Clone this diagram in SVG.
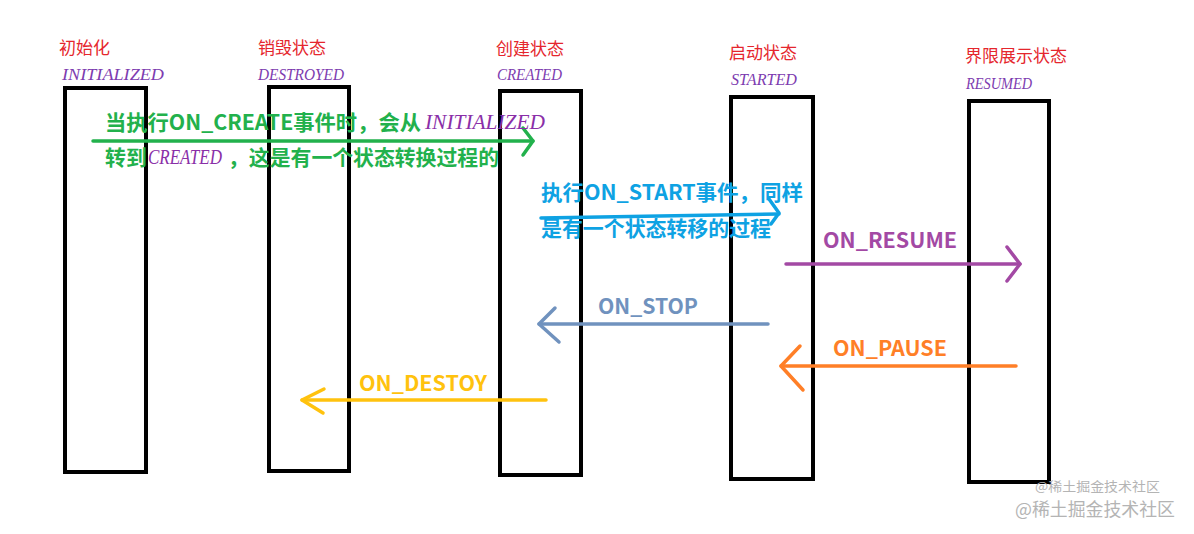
<svg xmlns="http://www.w3.org/2000/svg" width="1194" height="534" viewBox="0 0 1194 534">
  <style>
    .box { fill: #ffffff; stroke: #000000; stroke-width: 4; }
    .cn { font-family: "Noto Sans CJK SC", "Noto Sans", sans-serif; font-size: 17px; fill: #e5262d; }
    .en { font-family: "Liberation Serif", serif; font-style: italic; font-size: 16px; fill: #7d3cb0; }
    .enb { font-family: "Liberation Serif", serif; font-style: italic; font-size: 20px; fill: #8a2fa8; }
    .lbl { font-family: "Noto Sans CJK SC", "Noto Sans", sans-serif; font-weight: bold; font-size: 21px; }
    .ln { fill: none; stroke-width: 3.5; stroke-linecap: round; stroke-linejoin: round; }
    .wm { font-family: "Noto Sans CJK SC", "Noto Sans", sans-serif; fill: #b4b4b4; }
  </style>
  <rect width="1194" height="534" fill="#ffffff"/>

  <g id="node-initialized">
    <rect class="box" x="65" y="88" width="81" height="384"/>
    <text class="cn" x="59" y="54">初始化</text>
    <text class="en" x="62" y="80" textLength="102" lengthAdjust="spacingAndGlyphs">INITIALIZED</text>
  </g>
  <g id="node-destroyed">
    <rect class="box" x="269" y="87" width="80" height="384"/>
    <text class="cn" x="258" y="54">销毁状态</text>
    <text class="en" x="258" y="80" textLength="86" lengthAdjust="spacingAndGlyphs">DESTROYED</text>
  </g>
  <g id="node-created">
    <rect class="box" x="500" y="91" width="81" height="384"/>
    <text class="cn" x="496" y="55">创建状态</text>
    <text class="en" x="497" y="80" textLength="65" lengthAdjust="spacingAndGlyphs">CREATED</text>
  </g>
  <g id="node-started">
    <rect class="box" x="731" y="97" width="82" height="382"/>
    <text class="cn" x="729" y="59">启动状态</text>
    <text class="en" x="731" y="85" textLength="66" lengthAdjust="spacingAndGlyphs">STARTED</text>
  </g>
  <g id="node-resumed">
    <rect class="box" x="969" y="101" width="80" height="381"/>
    <text class="cn" x="965" y="62">界限展示状态</text>
    <text class="en" x="966" y="89" textLength="66" lengthAdjust="spacingAndGlyphs">RESUMED</text>
  </g>

  <g id="connectors">
    <g id="conn-create">
      <line class="ln" stroke="#22b14c" x1="93" y1="141" x2="533" y2="141"/>
      <polyline class="ln" stroke="#22b14c" points="523,128 533,141 523,155"/>
      <text class="lbl" fill="#22b14c" x="105" y="130" textLength="316" lengthAdjust="spacingAndGlyphs">当执行ON_CREATE事件时，会从</text>
      <text class="enb" x="425" y="129" textLength="120" lengthAdjust="spacingAndGlyphs">INITIALIZED</text>
      <text class="lbl" fill="#22b14c" x="105" y="165" textLength="42" lengthAdjust="spacingAndGlyphs">转到</text>
      <text class="enb" x="148" y="164" textLength="74" lengthAdjust="spacingAndGlyphs">CREATED</text>
      <text class="lbl" fill="#22b14c" x="228" y="165" textLength="271" lengthAdjust="spacingAndGlyphs">，这是有一个状态转换过程的</text>
    </g>
    <g id="conn-start">
      <line class="ln" stroke="#0ea2e3" x1="541" y1="218" x2="779" y2="214"/>
      <polyline class="ln" stroke="#0ea2e3" points="769,199 779,213 771,224"/>
      <text class="lbl" fill="#0ea2e3" x="541" y="200" textLength="262" lengthAdjust="spacingAndGlyphs">执行ON_START事件，同样</text>
      <text class="lbl" fill="#0ea2e3" x="541" y="236" textLength="230" lengthAdjust="spacingAndGlyphs">是有一个状态转移的过程</text>
    </g>
    <g id="conn-resume">
      <line class="ln" stroke="#a349a4" x1="786" y1="264" x2="1020" y2="264"/>
      <polyline class="ln" stroke="#a349a4" points="1007,247 1020,264 1007,281"/>
      <text class="lbl" fill="#a349a4" x="823" y="248" textLength="134" lengthAdjust="spacingAndGlyphs">ON_RESUME</text>
    </g>
    <g id="conn-stop">
      <line class="ln" stroke="#7092be" x1="768" y1="324" x2="539" y2="324"/>
      <polyline class="ln" stroke="#7092be" points="555,308 539,324 559,342"/>
      <text class="lbl" fill="#7092be" x="598" y="314" textLength="100" lengthAdjust="spacingAndGlyphs">ON_STOP</text>
    </g>
    <g id="conn-pause">
      <line class="ln" stroke="#ff7f27" x1="1016" y1="366" x2="781" y2="366"/>
      <polyline class="ln" stroke="#ff7f27" points="800,346 781,366 803,390"/>
      <text class="lbl" fill="#ff7f27" x="833" y="356" textLength="114" lengthAdjust="spacingAndGlyphs">ON_PAUSE</text>
    </g>
    <g id="conn-destroy">
      <line class="ln" stroke="#ffc20e" x1="546" y1="400" x2="302" y2="400"/>
      <polyline class="ln" stroke="#ffc20e" points="324,389 302,400 323,413"/>
      <text class="lbl" fill="#ffc20e" x="359" y="391" textLength="128" lengthAdjust="spacingAndGlyphs">ON_DESTOY</text>
    </g>
  </g>

  <text class="wm" x="1035" y="491" font-size="13" textLength="125" lengthAdjust="spacingAndGlyphs">@稀土掘金技术社区</text>
  <text class="wm" x="1015" y="516" font-size="18" textLength="160" lengthAdjust="spacingAndGlyphs" fill="#a0a0a0">@稀土掘金技术社区</text>
</svg>
